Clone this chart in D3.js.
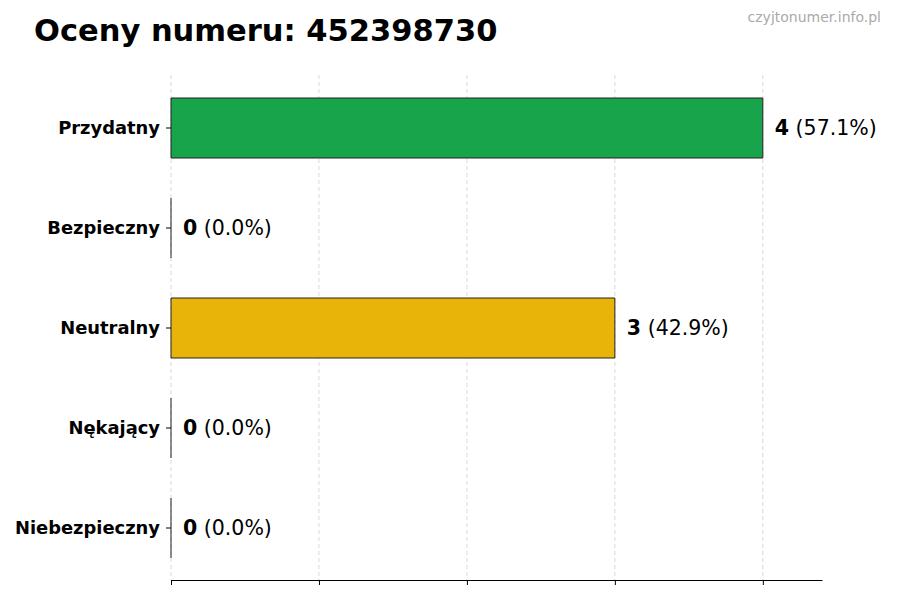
<!DOCTYPE html>
<html>
<head>
<meta charset="utf-8">
<script src="https://cdn.jsdelivr.net/npm/d3@7.9.0/dist/d3.min.js"></script>
<style>
  body { margin: 0; background: #fff; }
  svg { font-family: "DejaVu Sans", sans-serif; }
</style>
</head>
<body>
<svg id="chart" width="900" height="600"></svg>
<script>
const categories = ["Przydatny", "Bezpieczny", "Neutralny", "Nękający", "Niebezpieczny"];
const counts = [4, 0, 3, 0, 0];
const percents = ["57.1%", "0.0%", "42.9%", "0.0%", "0.0%"];
const colors = ["#18a44a", "#9e9e9e", "#e8b40a", "#e07b1a", "#d6332a"];
const xTicks = [0, 1, 2, 3, 4];

const svg = d3.select("#chart");

const x = d3.scaleLinear().domain([0, 4.4]).range([171, 822]);
const y = d3.scaleBand().domain(categories).range([78, 578])
  .paddingInner(0.4).paddingOuter(0.2);

// gridlines
svg.append("g")
  .selectAll("line")
  .data(xTicks)
  .join("line")
  .attr("x1", (d) => x(d)).attr("x2", (d) => x(d))
  .attr("y1", 75).attr("y2", 580)
  .attr("stroke", "#cfcfcf")
  .attr("stroke-width", 0.8)
  .attr("stroke-dasharray", "4,3");

// bars (paths so a zero bar still shows its edge)
svg.append("g")
  .selectAll("path")
  .data(categories)
  .join("path")
  .attr("d", (d, i) => {
    const x0 = x(0), w = x(counts[i]) - x(0), y0 = y(d), h = y.bandwidth();
    return `M${x0},${y0}h${w}v${h}h${-w}Z`;
  })
  .attr("fill", (d, i) => colors[i])
  .attr("stroke", "#222")
  .attr("stroke-width", (d, i) => counts[i] ? 1 : 0.6);

// value labels
const labels = svg.append("g")
  .selectAll("text")
  .data(categories)
  .join("text")
  .attr("x", (d, i) => x(counts[i]) + 12)
  .attr("y", (d) => y(d) + y.bandwidth() / 2)
  .attr("dy", "0.35em")
  .style("font-size", "20.5px");
labels.append("tspan").style("font-weight", "bold").text((d, i) => counts[i]);
labels.append("tspan").text((d, i) => " (" + percents[i] + ")");

// x axis
svg.append("g")
  .attr("transform", "translate(0,580)")
  .call(d3.axisBottom(x).tickValues(xTicks).tickFormat("").tickSize(5).tickSizeOuter(0))
  .call((g) => g.select(".domain").attr("stroke", "#000").attr("stroke-width", 1.2))
  .call((g) => g.selectAll(".tick line").attr("stroke", "#000"));

// y axis
svg.append("g")
  .attr("transform", "translate(171,0)")
  .call(d3.axisLeft(y).tickSize(5).tickPadding(6))
  .call((g) => g.select(".domain").remove())
  .call((g) => g.selectAll(".tick line").attr("stroke", "#000"))
  .call((g) => g.selectAll(".tick text")
    .style("font-family", "DejaVu Sans")
    .style("font-size", "17.9px")
    .style("font-weight", "bold")
    .attr("fill", "#000"));

// title
svg.append("text")
  .attr("x", 34).attr("y", 41)
  .style("font-size", "30.5px")
  .style("font-weight", "bold")
  .text("Oceny numeru: 452398730");

svg.append("text")
  .attr("x", 881).attr("y", 22)
  .attr("text-anchor", "end")
  .style("font-size", "14px")
  .attr("fill", "#aaaaaa")
  .text("czyjtonumer.info.pl");
</script>
</body>
</html>
